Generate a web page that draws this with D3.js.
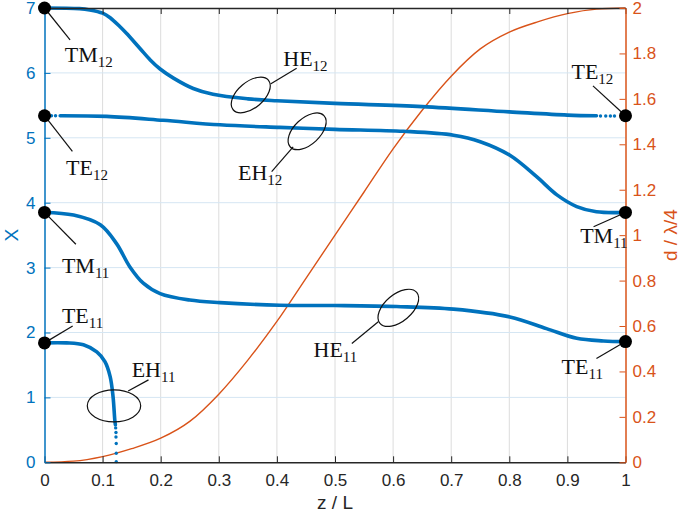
<!DOCTYPE html>
<html lang="en">
<head>
<meta charset="utf-8">
<style>
  body { margin: 0; background: white; }
  svg { font-family: 'Liberation Sans', Arial, sans-serif; }
  .lbl { font-family: 'Liberation Serif', 'Times New Roman', serif; font-size: 22px; fill: #111; }
  .lbl .sub { font-size: 15px; }
  .tick text { font-size: 17px; }
</style>
</head>
<body>
<svg width="685" height="515"></svg>
<script src="https://d3js.org/d3.v7.min.js"></script>
<script>
// ---- data ----
// TM12 -> HE12
const zTM12 = [0, 0.06, 0.078, 0.1, 0.113, 0.13, 0.141, 0.164, 0.182, 0.199, 0.222, 0.256, 0.29, 0.35, 0.4, 0.5, 0.65, 0.8, 0.9, 0.95]
const xTM12 = [7.0, 6.99, 6.97, 6.92, 6.85, 6.71, 6.61, 6.38, 6.20, 6.06, 5.92, 5.76, 5.67, 5.6, 5.57, 5.53, 5.48, 5.40, 5.35, 5.34]
const zTM12tail = [0.957, 0.966, 0.974, 0.981]
const xTM12tail = [5.337, 5.336, 5.336, 5.335]
// TE12 -> EH12 -> TM11
const zTE12 = [0.027, 0.107, 0.204, 0.302, 0.405, 0.5, 0.618, 0.704, 0.75, 0.801, 0.847, 0.882, 0.916, 0.95, 1]
const xTE12 = [5.34, 5.33, 5.27, 5.20, 5.16, 5.13, 5.10, 5.04, 4.94, 4.73, 4.40, 4.12, 3.94, 3.86, 3.85]
const zTE12head = [0.012, 0.019]
const xTE12head = [5.34, 5.34]
// TM11 -> HE11 -> TE11
const zTM11 = [0, 0.05, 0.096, 0.124, 0.147, 0.17, 0.199, 0.25, 0.302, 0.405, 0.5, 0.606, 0.704, 0.801, 0.864, 0.916, 0.962, 1]
const xTM11 = [3.85, 3.81, 3.66, 3.37, 3.01, 2.76, 2.60, 2.50, 2.46, 2.42, 2.415, 2.40, 2.36, 2.24, 2.06, 1.91, 1.87, 1.86]
// TE11 -> EH11
const zTE11 = [0, 0.038, 0.067, 0.09, 0.104, 0.113, 0.118, 0.121, 0.122]
const xTE11 = [1.84, 1.84, 1.81, 1.70, 1.55, 1.32, 1.01, 0.65, 0.58]
const zTE11tail = [0.1225, 0.123, 0.123, 0.1235, 0.1235, 0.1235]
const xTE11tail = [0.53, 0.46, 0.39, 0.29, 0.14, 0.01]
// d / (lambda/4) profile
const zD = [0, 0.05, 0.1, 0.15, 0.2, 0.25, 0.3, 0.35, 0.4, 0.45, 0.5, 0.55, 0.6, 0.65, 0.7, 0.75, 0.8, 0.85, 0.9, 0.95, 1]
const dD = [0, 0.005, 0.025, 0.06, 0.106, 0.18, 0.30, 0.45, 0.62, 0.81, 1.0, 1.19, 1.38, 1.55, 1.70, 1.82, 1.894, 1.94, 1.975, 1.995, 2.0]
// mode end points
const markerZ = [0, 0, 0, 0, 1, 1, 1]
const markerX = [7.0, 5.34, 3.85, 1.84, 5.34, 3.85, 1.86]

const xTicks = [0, 0.1, 0.2, 0.3, 0.4, 0.5, 0.6, 0.7, 0.8, 0.9, 1]
const yTicks = [0, 1, 2, 3, 4, 5, 6, 7]
const y2Ticks = [0, 0.2, 0.4, 0.6, 0.8, 1, 1.2, 1.4, 1.6, 1.8, 2]

const blue = '#0072BD', orange = '#D95319', ink = '#262626'

const pL = 44.5, pR = 625.5, pT = 8, pB = 462.3
const x = d3.scaleLinear().domain([0, 1]).range([pL, pR])
const y = d3.scaleLinear().domain([0, 7]).range([pB, pT])
const y2 = d3.scaleLinear().domain([0, 2]).range([pB, pT])

const svg = d3.select('svg')

// grid
svg.append('g').selectAll('line').data(xTicks.slice(1, -1)).enter().append('line')
  .attr('x1', d => x(d)).attr('x2', d => x(d)).attr('y1', pT).attr('y2', pB)
  .attr('stroke', '#dcdcdc').attr('stroke-width', 1)
svg.append('g').selectAll('line').data(yTicks.slice(1, -1)).enter().append('line')
  .attr('x1', pL).attr('x2', pR).attr('y1', d => y(d)).attr('y2', d => y(d))
  .attr('stroke', '#d5e6f3').attr('stroke-width', 1)

// orange profile
const zip = (a, b) => a.map((v, i) => [v, b[i]])
svg.append('path').datum(zip(zD, dD))
  .attr('fill', 'none').attr('stroke', orange).attr('stroke-width', 1.4)
  .attr('d', d3.line().x(d => x(d[0])).y(d => y2(d[1])).curve(d3.curveMonotoneX))

// blue curves
const blueLine = d3.line().x(d => x(d[0])).y(d => y(d[1])).curve(d3.curveCatmullRom.alpha(0.5))
;[zip(zTM12, xTM12), zip(zTE12, xTE12), zip(zTM11, xTM11), zip(zTE11, xTE11)].forEach(c => {
  svg.append('path').datum(c)
    .attr('fill', 'none').attr('stroke', blue).attr('stroke-width', 3.6)
    .attr('stroke-linecap', 'round')
    .attr('d', blueLine)
})
const dots = [].concat(zip(zTM12tail, xTM12tail), zip(zTE12head, xTE12head), zip(zTE11tail, xTE11tail))
svg.append('g').selectAll('circle').data(dots).enter().append('circle')
  .attr('cx', d => x(d[0])).attr('cy', d => y(d[1])).attr('r', 1.7).attr('fill', blue)

// axes
const tickFmt = d3.format('~g')
const gx = svg.append('g').attr('transform', `translate(0,${pB})`)
  .call(d3.axisBottom(x).tickValues(xTicks).tickFormat(tickFmt).tickSizeInner(-6).tickSizeOuter(0).tickPadding(10))
const gt = svg.append('g').attr('transform', `translate(0,${pT})`)
  .call(d3.axisTop(x).tickValues(xTicks).tickFormat('').tickSizeInner(-6).tickSizeOuter(0))
;[gx, gt].forEach(g => { g.selectAll('path,line').attr('stroke', ink); g.selectAll('text').attr('fill', ink) })
gx.selectAll('text').attr('dy', '0.78em')

const gy = svg.append('g').attr('transform', `translate(${pL},0)`)
  .call(d3.axisLeft(y).tickValues(yTicks).tickFormat(tickFmt).tickSizeInner(-6).tickSizeOuter(0).tickPadding(9))
gy.selectAll('path,line').attr('stroke', blue); gy.selectAll('text').attr('fill', blue)

const gy2 = svg.append('g').attr('transform', `translate(${pR},0)`)
  .call(d3.axisRight(y2).tickValues(y2Ticks).tickFormat(tickFmt).tickSizeInner(-6).tickSizeOuter(0).tickPadding(7))
gy2.selectAll('path,line').attr('stroke', orange); gy2.selectAll('text').attr('fill', orange)
svg.selectAll('.domain').attr('stroke-width', 1.5)
svg.selectAll('.tick text').attr('font-family', "'Liberation Sans', Arial, sans-serif")

// axis titles
svg.append('text').attr('x', (pL + pR) / 2).attr('y', 509).attr('text-anchor', 'middle')
  .attr('fill', ink).attr('font-size', 19).text('z / L')
svg.append('text').attr('transform', `translate(17.5,${(pT + pB) / 2}) rotate(-90)`)
  .attr('text-anchor', 'middle').attr('fill', blue).attr('font-size', 19).text('X')
svg.append('text').attr('transform', `translate(677,${(pT + pB) / 2}) rotate(-90)`)
  .attr('text-anchor', 'middle').attr('fill', orange).attr('font-size', 19).text('d / λ/4')

// annotations: text position, leader line (from, to), optional ellipse, all in data units
const notes = [
  { base: 'TM', sub: '12', t: [0.035, 6.17], line: [[0, 7.0], [0.044, 6.51]] },
  { base: 'TE', sub: '12', t: [0.037, 4.43], line: [[0, 5.34], [0.048, 4.79]] },
  { base: 'TM', sub: '11', t: [0.030, 2.92], line: [[0, 3.85], [0.054, 3.36]] },
  { base: 'TE', sub: '11', t: [0.030, 2.15], line: [[0, 1.84], [0.0485, 2.10]] },
  { base: 'EH', sub: '11', t: [0.150, 1.32], line: [[0.144, 1.10], [0.179, 1.27]], ell: [0.1196, 0.87, 26.7, 16, 0] },
  { base: 'HE', sub: '12', t: [0.411, 6.10], line: [[0.389, 5.83], [0.434, 6.07]], ell: [0.355, 5.66, 23, 13, -40] },
  { base: 'EH', sub: '12', t: [0.333, 4.35], line: [[0.428, 4.86], [0.391, 4.48]], ell: [0.452, 5.10, 23, 13, -43] },
  { base: 'HE', sub: '11', t: [0.463, 1.62], line: [[0.575, 2.17], [0.529, 1.83]], ell: [0.609, 2.38, 24, 13.5, -40] },
  { base: 'TE', sub: '12', t: [0.907, 5.91], line: [[0.944, 5.80], [1, 5.34]] },
  { base: 'TM', sub: '11', t: [0.922, 3.38], line: [[0.945, 3.63], [1, 3.85]] },
  { base: 'TE', sub: '11', t: [0.890, 1.36], line: [[0.950, 1.60], [1, 1.86]] }
]
const ng = svg.append('g')
notes.forEach(n => {
  ng.append('line')
    .attr('x1', x(n.line[0][0])).attr('y1', y(n.line[0][1]))
    .attr('x2', x(n.line[1][0])).attr('y2', y(n.line[1][1]))
    .attr('stroke', '#111').attr('stroke-width', 1.2)
  if (n.ell) {
    ng.append('ellipse')
      .attr('transform', `translate(${x(n.ell[0])},${y(n.ell[1])}) rotate(${n.ell[4]})`)
      .attr('rx', n.ell[2]).attr('ry', n.ell[3])
      .attr('fill', 'none').attr('stroke', '#111').attr('stroke-width', 1.2)
  }
  const t = ng.append('text').attr('class', 'lbl').attr('x', x(n.t[0])).attr('y', y(n.t[1]))
  t.append('tspan').text(n.base)
  t.append('tspan').attr('class', 'sub').attr('dy', 5).text(n.sub)
})

// end point markers
svg.append('g').selectAll('circle').data(zip(markerZ, markerX)).enter().append('circle')
  .attr('cx', d => x(d[0])).attr('cy', d => y(d[1])).attr('r', 6.5).attr('fill', '#000')
</script>
</body>
</html>
